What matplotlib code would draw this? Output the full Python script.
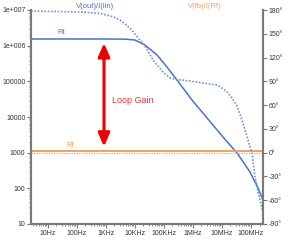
import matplotlib
matplotlib.use("Agg")
import matplotlib.pyplot as plt
from matplotlib.ticker import FixedLocator, FixedFormatter, NullFormatter, LogLocator

plt.rcParams['font.family'] = ['Liberation Sans', 'DejaVu Sans']

# ---- data ----
rt_freq = [2.65, 1e3, 4.6e3, 1.02e4, 2.25e4, 5.85e4, 1.29e5, 2.86e5, 9.4e5, 3.1e6,
           1.1e7, 3.36e7, 9.4e7, 1.78e8, 2.64e8]
rt_mag = [1.54e6, 1.54e6, 1.52e6, 1.44e6, 1.04e6, 5.5e5, 2.52e5, 1.09e5, 3.0e4, 9.4e3,
          2.75e3, 980, 287, 102, 47]

ph_freq = [2.65, 129, 634, 1.78e3, 3.1e3, 6.85e3, 1.52e4, 2.25e4, 4.26e4, 9.4e4, 1.64e5,
           2.86e5, 8.0e5, 3.9e6, 6.9e6, 1.02e7, 1.52e7, 2.26e7, 3.36e7, 5.4e7, 8.0e7,
           1.1e8, 1.4e8, 1.78e8, 2.64e8]
ph_deg = [178.7, 177.5, 175.8, 171.5, 167.4, 157.3, 142.1, 134.6, 116.9, 101.8, 94.2,
          92.3, 90.4, 86.6, 85.4, 81.6, 76.5, 69.0, 58.9, 37.4, 16.0,
          -0.4, -30.3, -49.6, -74.9]

rf_freq = [2.65, 2.64e8]
rf_mag = [1130, 1130]
rf_deg = [0, 0]

loop_gain_freq = 870

x_ticks = [10, 100, 1e3, 1e4, 1e5, 1e6, 1e7, 1e8]
x_labels = ["10Hz", "100Hz", "1KHz", "10KHz", "100KHz", "1MHz", "10MHz", "100MHz"]
y_ticks = [10, 100, 1000, 1e4, 1e5, 1e6, 1e7]
y_labels = ["10", "100", "1000", "10000", "100000", "1e+006", "1e+007"]
deg_ticks = [-90, -60, -30, 0, 30, 60, 90, 120, 150, 180]
deg_labels = ["-90°", "-60°", "-30°", "0°", "30°", "60°", "90°", "120°", "150°", "180°"]

blue = "#4a72cc"
blue_l = "#6f90dc"
orange = "#f2a25a"
spine_c = "#7a7a7a"

fig = plt.figure(figsize=(2.89, 2.40), dpi=100)
ax = fig.add_axes([31/289, 1-224/240, 232/289, 214/240])
ax2 = ax.twinx()

ax.set_xscale('log')
ax.set_yscale('log')
ax.set_xlim(2.65, 2.64e8)
ax.set_ylim(10, 1e7)
ax2.set_ylim(-90, 180)

ax.plot(rt_freq, rt_mag, color=blue, lw=1.1, solid_joinstyle='round')
ax.plot(rf_freq, rf_mag, color=orange, lw=1.4)
ax2.plot(ph_freq, ph_deg, color=blue_l, lw=1.2, ls=(0, (1, 1)))
ax2.plot(rf_freq, rf_deg, color=orange, lw=0.9, ls=(0, (1, 1)))

ax.annotate('', xy=(loop_gain_freq, rf_mag[0]), xytext=(loop_gain_freq, rt_mag[0]),
            arrowprops=dict(arrowstyle='<|-|>,head_length=0.8,head_width=0.35',
                            color='#ee0000', lw=2.2, shrinkA=3, shrinkB=3))
ax.text(0.349, 0.579, "Loop Gain", transform=ax.transAxes, color='#f03030',
        fontsize=6.5, ha='left', va='center')

ax.annotate("Rt", xy=(30, rt_mag[0]), xytext=(0, 2), textcoords='offset points',
            color=blue, fontsize=5.5, ha='center', va='bottom')
ax.annotate("Rf", xy=(59, rf_mag[0]), xytext=(0, 1.5), textcoords='offset points',
            color=orange, fontsize=5.5, ha='center', va='bottom')
ax.text(0.276, 1.0, "V(out)/I(lin)", transform=ax.transAxes, color=blue,
        fontsize=5.5, ha='center', va='bottom')
ax.text(0.75, 1.0, "V(fb)/I(Rf)", transform=ax.transAxes, color=orange,
        fontsize=5.5, ha='center', va='bottom')

for a in (ax, ax2):
    a.spines['top'].set_visible(False)
    for s in ('left', 'right', 'bottom'):
        a.spines[s].set_color(spine_c)
        a.spines[s].set_linewidth(1.5)
    a.set_facecolor('none')

ax.xaxis.set_major_locator(FixedLocator(x_ticks))
ax.xaxis.set_major_formatter(FixedFormatter(x_labels))
ax.xaxis.set_minor_locator(LogLocator(base=10, subs=range(2, 10), numticks=20))
ax.xaxis.set_minor_formatter(NullFormatter())
ax.yaxis.set_major_locator(FixedLocator(y_ticks))
ax.yaxis.set_major_formatter(FixedFormatter(y_labels))
ax.yaxis.set_minor_locator(LogLocator(base=10, subs=range(2, 10), numticks=20))
ax.yaxis.set_minor_formatter(NullFormatter())
ax2.yaxis.set_major_locator(FixedLocator(deg_ticks))
ax2.yaxis.set_major_formatter(FixedFormatter(deg_labels))

ax.tick_params(axis='both', which='major', labelsize=5, length=3, width=0.8,
               color=spine_c, pad=1, labelcolor='#333333')
ax.tick_params(axis='both', which='minor', length=1.5, width=0.6, color=spine_c)
ax2.tick_params(axis='y', which='major', labelsize=5, length=3, width=0.8,
                color=spine_c, pad=1, labelcolor='#333333')

fig.savefig("out.png", dpi=100)
